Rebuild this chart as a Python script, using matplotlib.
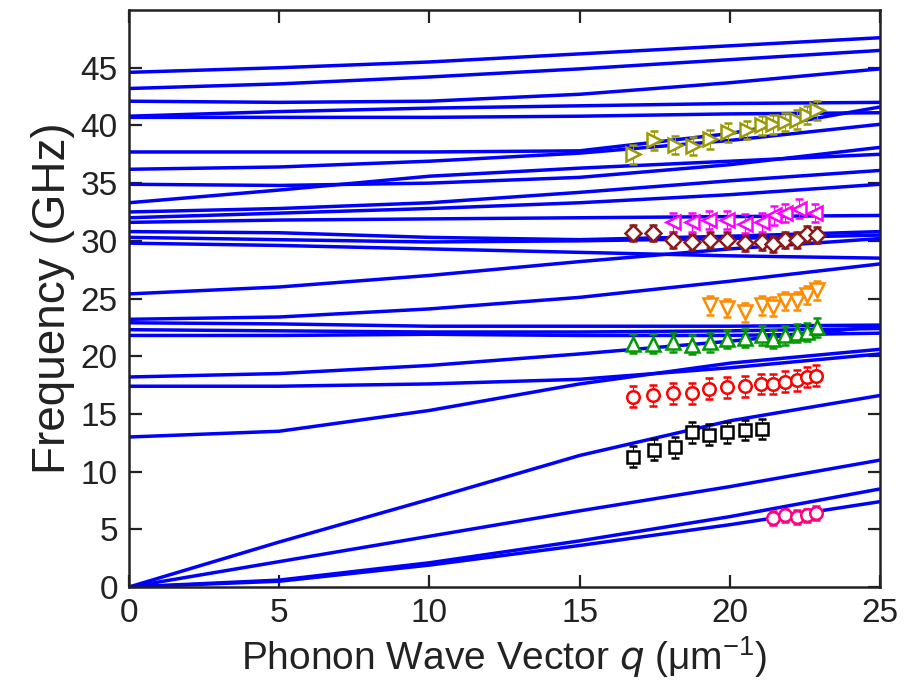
import matplotlib
matplotlib.use("Agg")
import matplotlib.pyplot as plt
import numpy as np

plt.rcParams['font.family'] = ['Liberation Sans', 'DejaVu Sans']

# ---- calculated dispersion branches (GHz) at these wave vectors ----
q_grid = [0, 5, 10, 15, 20, 25]

branches_high = [
    [44.6, 45.0, 45.5, 46.2, 46.9, 47.6],
    [43.2, 43.6, 44.2, 44.9, 45.7, 46.5],
    [42.1, 42.0, 42.1, 42.7, 43.7, 44.9],
    [40.8, 41.2, 41.5, 41.7, 41.9, 42.0],
    [40.7, 40.7, 40.7, 40.8, 41.0, 41.1],
    [37.7, 37.7, 37.7, 37.8, 39.3, 41.6],
    [36.2, 36.4, 36.9, 37.6, 38.7, 40.1],
    [34.9, 34.8, 35.0, 35.5, 36.6, 38.1],
    [33.3, 34.4, 35.6, 36.3, 36.9, 37.5],
]
branches_mid = [
    [32.5, 32.8, 33.3, 34.2, 35.2, 36.1],
    [32.0, 32.4, 32.8, 33.3, 34.0, 34.9],
    [31.6, 31.8, 31.9, 32.0, 32.1, 32.2],
    [30.8, 30.7, 30.3, 30.1, 30.4, 30.8],
    [30.3, 30.1, 29.9, 30.0, 30.2, 30.5],
    [29.8, 29.6, 29.3, 29.0, 28.7, 28.5],
    [25.4, 26.0, 27.0, 28.2, 29.3, 30.2],
    [23.2, 23.4, 24.1, 25.1, 26.5, 28.0],
]
branches_low = [
    [22.9, 22.8, 22.6, 22.6, 22.6, 22.7],
    [22.3, 22.2, 22.1, 22.1, 22.2, 22.4],
    [21.8, 21.8, 21.9, 21.8, 21.8, 22.0],
    [18.2, 18.5, 19.2, 20.2, 21.3, 22.6],
    [17.4, 17.4, 17.6, 18.0, 19.0, 20.2],
    [13.0, 13.5, 15.3, 17.6, 19.4, 20.6],
]
branches_acoustic = [
    [0, 3.9, 7.6, 11.4, 14.4, 16.6],
    [0, 2.2, 4.4, 6.6, 8.7, 11.0],
    [0, 0.6, 2.1, 4.0, 6.1, 8.5],
    [0, 0.5, 1.9, 3.6, 5.4, 7.4],
]

# ---- measured modes ----
q_olive = [16.79, 17.46, 18.18, 18.77, 19.34, 19.95, 20.57, 21.07, 21.45, 21.84, 22.23, 22.56, 22.90]
f_olive = [37.5, 38.7, 38.3, 38.2, 38.8, 39.4, 39.6, 40.0, 40.1, 40.3, 40.5, 40.9, 41.3]

q_magenta = [18.12, 18.73, 19.29, 19.90, 20.50, 21.07, 21.46, 21.84, 22.29, 22.84]
f_magenta = [31.6, 31.6, 31.8, 31.8, 31.5, 31.6, 32.2, 32.4, 32.8, 32.4]

q_brown = [16.76, 17.43, 18.12, 18.73, 19.34, 19.90, 20.50, 21.07, 21.43, 21.84, 22.23, 22.56, 22.90]
f_brown = [30.7, 30.7, 30.1, 29.9, 30.1, 30.1, 29.8, 29.9, 29.7, 30.1, 30.1, 30.6, 30.5]

q_orange = [19.34, 19.90, 20.50, 21.07, 21.43, 21.84, 22.23, 22.56, 22.90]
f_orange = [24.4, 24.2, 23.8, 24.4, 24.3, 24.8, 24.8, 25.3, 25.7]

q_green = [16.76, 17.43, 18.12, 18.73, 19.34, 19.90, 20.50, 21.07, 21.43, 21.84, 22.23, 22.56, 22.90]
f_green = [21.1, 21.1, 21.2, 21.0, 21.2, 21.5, 21.6, 21.8, 21.5, 21.8, 22.0, 22.1, 22.5]

q_red = [16.76, 17.43, 18.12, 18.73, 19.32, 19.92, 20.50, 21.04, 21.43, 21.84, 22.23, 22.56, 22.87]
f_red = [16.5, 16.6, 16.8, 16.8, 17.2, 17.3, 17.4, 17.6, 17.6, 17.8, 17.9, 18.2, 18.3]

q_black = [16.76, 17.46, 18.17, 18.73, 19.32, 19.92, 20.50, 21.07]
f_black = [11.3, 11.9, 12.1, 13.4, 13.2, 13.4, 13.6, 13.7]

q_pink = [21.43, 21.84, 22.23, 22.58, 22.87]
f_pink = [6.0, 6.2, 6.1, 6.2, 6.4]

err_black = 0.9
err_red = 0.9
err_green = 0.8
err_orange = 0.8
err_brown = 0.7
err_magenta = 0.8
err_olive = 0.8
err_pink = 0.6

fig = plt.figure(figsize=(9.05, 6.92), dpi=100)
ax = fig.add_axes([0.1425, 0.1517, 0.8300, 0.8338])

for group in (branches_high, branches_mid, branches_low, branches_acoustic):
    for b in group:
        ax.plot(q_grid, b, color='#0000FF', lw=2.5, solid_capstyle='butt', zorder=2)

series = [
    (q_black, f_black, err_black, 's', '#000000', 8),
    (q_red, f_red, err_red, 'o', '#FF0000', 9),
    (q_green, f_green, err_green, '^', '#009900', 9.5),
    (q_orange, f_orange, err_orange, 'v', '#FF8C00', 9.5),
    (q_brown, f_brown, err_brown, 'D', '#8B1A1A', 8),
    (q_magenta, f_magenta, err_magenta, '<', '#FF00FF', 9.5),
    (q_olive, f_olive, err_olive, '>', '#999900', 9.5),
    (q_pink, f_pink, err_pink, 'o', '#FF0080', 9),
]
for q, f, e, m, c, ms in series:
    ax.errorbar(q, f, yerr=e, fmt=m, color=c, mfc='white', mec=c, mew=1.8,
                ms=ms, elinewidth=0.8, capsize=3, capthick=0.8, ecolor=c, zorder=3)

ax.set_xlim(0, 25)
ax.set_ylim(0, 50)
ax.set_xticks([0, 5, 10, 15, 20, 25])
ax.set_yticks([0, 5, 10, 15, 20, 25, 30, 35, 40, 45])
ax.tick_params(direction='in', length=9, width=1.6, top=True, right=True,
               labelsize=24, pad=8, colors='#222222', labelcolor='#222222')
for s in ax.spines.values():
    s.set_linewidth(1.8)
    s.set_color('#222222')

ax.set_xlabel('Phonon Wave Vector $\\it{q}$ ($\\mathregular{\\mu m^{-1}}$)', fontsize=28, color='#222222', labelpad=4)
ax.set_ylabel('Frequency (GHz)', fontsize=33, color='#222222', labelpad=4)

fig.savefig('out.png', dpi=100)
